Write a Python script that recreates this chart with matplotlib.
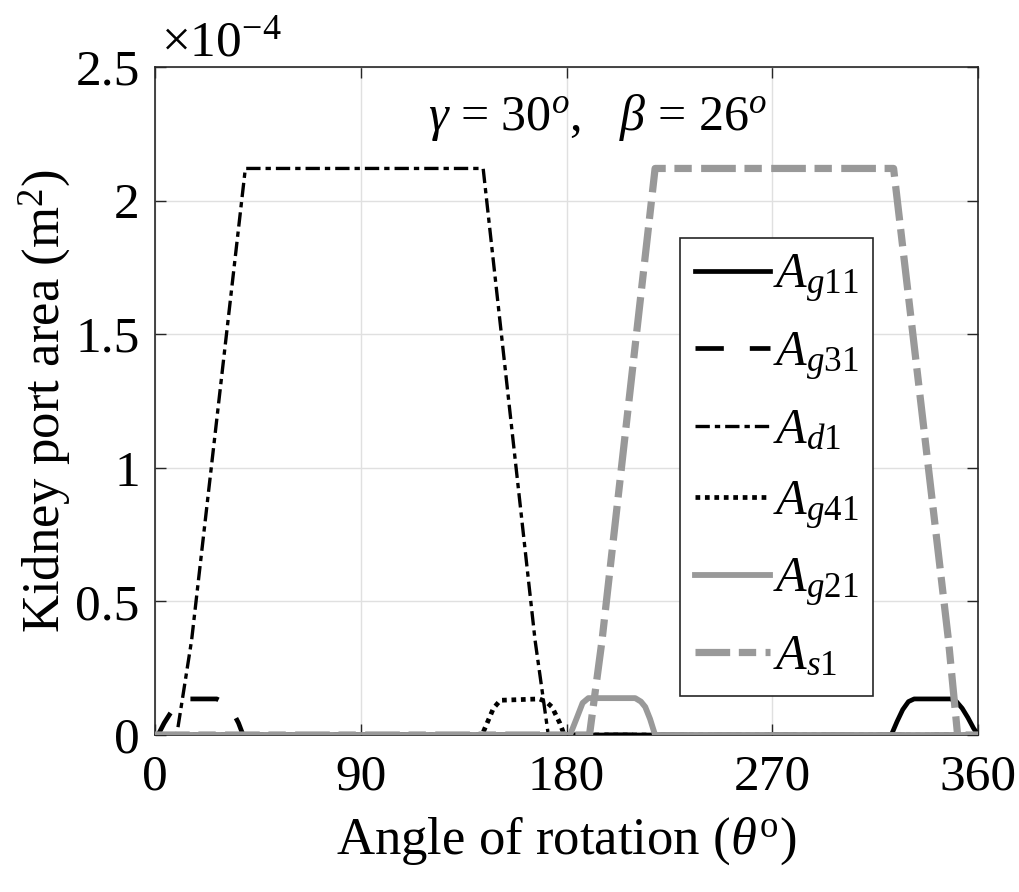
import matplotlib
matplotlib.use("Agg")
import matplotlib.pyplot as plt
from matplotlib.ticker import FuncFormatter

plt.rcParams['font.family'] = ['Liberation Serif', 'DejaVu Serif']
plt.rcParams['mathtext.fontset'] = 'custom'
plt.rcParams['mathtext.rm'] = 'Liberation Serif'
plt.rcParams['mathtext.it'] = 'Liberation Serif:italic'
plt.rcParams['mathtext.bf'] = 'Liberation Serif:bold'

# ---- data (area in units of 1e-4 m^2, angle in degrees) ----
g11_x = [0, 322, 324.5, 327, 329.5, 332, 348, 350.5, 353, 355.5, 358, 360]
g11_y = [0, 0, 0.05, 0.095, 0.125, 0.135, 0.135, 0.125, 0.10, 0.065, 0.025, 0]

g31_x = [0, 1.3, 4, 6.6, 9.5, 13, 27, 30.5, 34, 36.5, 38.5, 360]
g31_y = [0, 0, 0.045, 0.08, 0.115, 0.135, 0.135, 0.12, 0.086, 0.045, 0, 0]

d1_x = [0, 9.5, 16, 39.5, 143.5, 166.2, 172, 360]
d1_y = [0, 0, 0.355, 2.12, 2.12, 0.355, 0, 0]

g41_x = [0, 143, 145.5, 148, 151, 168, 171, 173.6, 177, 179, 360]
g41_y = [0, 0, 0.05, 0.10, 0.13, 0.135, 0.125, 0.105, 0.045, 0, 0]

g21_x = [0, 181.5, 184.6, 187, 189.5, 210, 212.5, 214.4, 216.5, 218.7, 360]
g21_y = [0, 0, 0.067, 0.12, 0.138, 0.138, 0.125, 0.105, 0.06, 0, 0]

s1_x = [0, 190, 195.5, 218.7, 323, 347, 351, 360]
s1_y = [0, 0, 0.355, 2.12, 2.12, 0.355, 0, 0]

x_ticks = [0, 90, 180, 270, 360]
y_ticks = [0, 0.5, 1.0, 1.5, 2.0, 2.5]

GRAY = '#999999'

fig = plt.figure(figsize=(10.2, 8.92), dpi=100)
ax = fig.add_axes([0.152, 0.176, 0.807, 0.749])

ax.plot(g11_x, g11_y, color='black', lw=3.4, ls='-', label=r'$A_{\mathit{g11}}$', zorder=3)
ax.plot(g31_x, g31_y, color='black', lw=3.4, ls=(0, (6.0, 5.5)), label=r'$A_{\mathit{g31}}$', zorder=3)
ax.plot(d1_x, d1_y, color='black', lw=2.4, ls=(0, (4.3, 1.5, 1.6, 1.5)), label=r'$A_{\mathit{d1}}$', zorder=3)
ax.plot(g41_x, g41_y, color='black', lw=3.4, ls=(0, (1.0, 1.0)), label=r'$A_{\mathit{g41}}$', zorder=3)
ax.plot(g21_x, g21_y, color=GRAY, lw=4.2, ls='-', label=r'$A_{\mathit{g21}}$', zorder=4)
ax.plot(s1_x, s1_y, color=GRAY, lw=5.2, ls=(0, (4.8, 1.2, 2.4, 1.3)), label=r'$A_{\mathit{s1}}$', zorder=4)

ax.set_xlim(0, 360)
ax.set_ylim(0, 2.5)
ax.set_xticks(x_ticks)
ax.set_yticks(y_ticks)
ax.yaxis.set_major_formatter(FuncFormatter(lambda v, p: ('%g' % v)))
ax.tick_params(direction='in', length=8, width=1, top=True, right=True,
               labelsize=37, pad=11, colors='#262626', labelcolor='black')
ax.tick_params(axis='x', pad=14)
ax.grid(True, color='#e0e0e0', lw=1)
ax.set_axisbelow(True)
for s in ax.spines.values():
    s.set_color('#262626')
    s.set_linewidth(1.2)

ax.set_xlabel(r'Angle of rotation ($\theta^{\mathrm{o}}$)', fontsize=38, labelpad=10)
ax.set_ylabel(r'Kidney port area (m$^2$)', fontsize=38, labelpad=2)

ax.text(193.4, 2.31, r'$\gamma$ = 30$^{\mathit{o}}$,   $\beta$ = 26$^{\mathit{o}}$',
        fontsize=36, ha='center', va='center')
fig.text(0.158, 0.938, r'$\times$10$^{-4}$', fontsize=37, ha='left', va='baseline')

leg = ax.legend(loc='upper left', bbox_to_anchor=(0.638, 0.744), fontsize=36,
                frameon=True, fancybox=False, edgecolor='#262626', framealpha=1,
                handlelength=1.5, handletextpad=0.05, labelspacing=0.5,
                borderpad=0.3, borderaxespad=0)
leg.get_frame().set_linewidth(1.2)

fig.savefig('out.png', dpi=100)
